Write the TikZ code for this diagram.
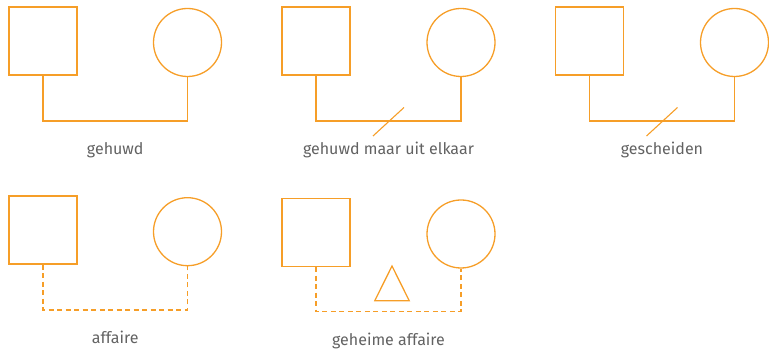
\documentclass[tikz,border=0pt]{standalone}
\usepackage{fontspec}
\setmainfont{Fira Sans}
\usetikzlibrary{positioning}

\definecolor{relorange}{RGB}{246,158,40}
\definecolor{relgrey}{RGB}{98,98,98}

\begin{document}
\begin{tikzpicture}[
    x=1pt, y=1pt,
    every node/.style={font=\fontsize{16}{19}\selectfont},
    % man / vrouw
    man/.style={draw=relorange, line width=1.3pt, rectangle, minimum size=68pt, inner sep=0pt},
    vrouw/.style={draw=relorange, line width=1.3pt, circle, minimum size=68pt, inner sep=0pt},
    % verbindingen
    bond/.style={draw=relorange, line width=1.3pt},
    loose/.style={bond, dash pattern=on 5pt off 3.5pt},
    cut/.style={bond, line width=1.1pt},
    lbl/.style={text=relgrey, inner sep=0pt, below=21pt of #1},
]
\useasboundingbox (0,0) rectangle (769,355);

%% ── bovenste rij ──────────────────────────────────────
\def\by{234}  % hoogte van de verbindingslijn

% gehuwd
\node[man]   (sq1) at (43,314)    {};
\node[vrouw] (ci1) at (187.5,312.5) {};
\draw[bond] (sq1.south) -- (sq1.south |- 0,\by) -| coordinate[pos=0.25] (m1) (ci1.south);
\node[lbl=m1] (t1) {gehuwd};

% gehuwd maar uit elkaar
\node[man]   (sq2) at (316,314)   {};
\node[vrouw] (ci2) at (461,312.5) {};
\draw[bond] (sq2.south) -- (sq2.south |- 0,\by) -| coordinate[pos=0.25] (m2) (ci2.south);
\draw[cut] (m2) ++(-15.5,-15) -- ++(31,28.5);
\node[lbl=m2] (t2) {gehuwd maar uit elkaar};

% gescheiden
\node[man]   (sq3) at (589.5,314) {};
\node[vrouw] (ci3) at (734.5,312.5) {};
\draw[bond] (sq3.south) -- (sq3.south |- 0,\by) -| coordinate[pos=0.25] (m3) (ci3.south);
\draw[cut] (m3) ++(-15.5,-15) -- ++(31,28.5);
\node[lbl=m3] (t3) {gescheiden};

%% ── onderste rij ──────────────────────────────────────
% affaire
\node[man]   (sq4) at (43,125)     {};
\node[vrouw] (ci4) at (187.5,123.3) {};
\draw[loose] (sq4.south) -- (sq4.south |- 0,45) -| coordinate[pos=0.25] (m4) (ci4.south);
\node[lbl=m4] (t4) {affaire};

% geheime affaire
\node[man]   (sq5) at (316,122.5) {};
\node[vrouw] (ci5) at (461,121)   {};
\draw[loose] (sq5.south) -- (sq5.south |- 0,43.3) -| coordinate[pos=0.25] (m5) (ci5.south);
\coordinate (kind) at (392,71.6);
\draw[bond, line join=miter] (kind) ++(0,17.4) -- ++(17.2,-34.7) -- ++(-34.4,0) -- cycle;
\node[lbl=m5] (t5) {geheime affaire};

\end{tikzpicture}
\end{document}
